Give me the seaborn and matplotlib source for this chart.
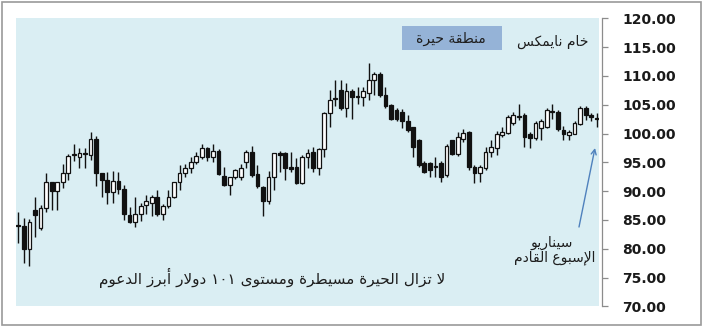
import re
import numpy as np
import pandas as pd
import matplotlib
matplotlib.use("Agg")
import matplotlib.pyplot as plt
import seaborn as sns
from matplotlib.patches import Rectangle

# ---------------- data (weekly NYMEX crude candles) ----------------
opens = [84.2, 84.0, 80.0, 86.7, 83.6, 87.0, 91.5, 90.1, 91.5, 93.2,
         96.2, 95.9, 96.6, 96.3, 99.0, 93.1, 91.9, 89.8, 91.8, 90.3,
         85.9, 84.7, 86.1, 87.6, 88.0, 89.0, 86.1, 87.4, 89.0, 91.5,
         93.2, 94.0, 95.1, 96.0, 97.4, 96.0, 97.0, 92.6, 91.0, 92.4,
         92.5, 95.1, 96.8, 93.0, 90.7, 88.2, 92.5, 96.7, 96.6, 94.1,
         94.2, 91.4, 96.0, 96.8, 94.0, 97.3, 103.6, 106.2, 107.6, 104.4,
         107.4, 106.5, 106.4, 107.1, 109.3, 110.3, 106.7, 105.0, 104.1, 103.8,
         102.1, 101.1, 98.9, 94.9, 94.9, 94.3, 94.8, 92.8, 98.9, 96.4,
         99.0, 100.3, 94.2, 93.1, 94.0, 96.8, 97.4, 99.7, 100.1, 101.9,
         103.0, 103.2, 100.0, 99.3, 100.9, 101.2, 103.9, 103.8, 100.6, 99.7,
         100.0, 101.6, 104.4, 103.2, 102.7]
highs = [86.4, 85.3, 85.2, 89.0, 87.6, 93.2, 91.6, 91.6, 94.7, 96.4,
         98.2, 97.5, 97.5, 100.3, 99.6, 93.2, 93.4, 93.5, 93.4, 91.1,
         87.3, 89.0, 88.0, 89.4, 89.4, 90.2, 87.8, 90.2, 91.6, 94.5,
         94.7, 96.0, 96.8, 98.2, 97.7, 98.2, 97.3, 94.1, 92.5, 93.8,
         94.7, 97.1, 97.9, 94.5, 90.8, 93.5, 96.7, 96.9, 96.8, 96.8,
         95.7, 96.3, 97.3, 97.7, 97.4, 103.8, 107.6, 109.3, 109.3, 108.7,
         107.8, 108.1, 108.1, 112.3, 110.7, 110.6, 108.1, 105.1, 104.5, 104.2,
         103.2, 101.2, 99.0, 95.2, 95.1, 96.0, 95.3, 98.1, 98.9, 100.2,
         100.8, 100.5, 94.5, 94.5, 97.7, 98.9, 100.5, 101.2, 103.2, 103.8,
         105.1, 103.5, 100.3, 102.1, 102.6, 104.5, 105.1, 104.0, 101.3, 100.6,
         102.1, 104.7, 104.7, 103.6, 103.5]
lows = [81.0, 77.5, 77.0, 82.0, 83.2, 86.4, 86.7, 86.8, 90.5, 91.9,
        95.3, 94.0, 94.0, 95.4, 90.8, 89.0, 87.8, 88.0, 89.5, 85.0,
        84.5, 83.8, 84.8, 86.1, 85.7, 85.6, 85.0, 87.0, 88.8, 90.2,
        92.5, 93.1, 94.7, 95.6, 95.3, 95.1, 92.8, 90.9, 89.3, 92.1,
        91.9, 94.0, 92.5, 90.5, 85.7, 87.8, 90.2, 93.4, 91.9, 93.4,
        91.2, 91.2, 94.0, 93.4, 92.8, 96.0, 101.2, 104.7, 104.1, 102.8,
        102.5, 105.2, 104.7, 105.8, 106.7, 106.4, 104.5, 102.3, 102.2, 100.9,
        100.3, 96.0, 94.2, 93.2, 92.5, 92.5, 91.6, 92.5, 96.2, 96.1,
        98.6, 93.7, 91.4, 91.6, 93.7, 96.0, 96.3, 99.4, 99.9, 101.5,
        102.3, 97.7, 97.4, 98.9, 98.9, 100.9, 102.6, 100.4, 98.9, 98.9,
        99.9, 101.5, 102.3, 102.2, 101.2]
closes = [84.0, 80.0, 84.7, 85.8, 87.0, 91.6, 90.1, 91.5, 93.2, 96.1,
          96.4, 96.6, 96.4, 99.0, 93.1, 91.9, 89.9, 91.8, 90.3, 86.1,
          84.7, 86.1, 87.4, 88.2, 88.9, 86.1, 87.4, 88.9, 91.5, 93.1,
          94.0, 95.1, 96.1, 97.4, 96.0, 97.0, 93.0, 91.0, 92.4, 93.6,
          94.0, 96.8, 92.8, 90.8, 88.2, 92.5, 96.6, 96.3, 94.0, 93.9,
          91.4, 96.0, 96.6, 94.0, 97.3, 103.6, 105.9, 106.0, 104.4, 107.3,
          106.4, 106.3, 107.3, 109.3, 110.3, 106.7, 104.7, 102.5, 102.6, 102.2,
          100.6, 97.7, 94.5, 93.4, 93.7, 94.1, 92.5, 97.9, 96.4, 99.4,
          100.1, 94.2, 93.1, 94.2, 96.8, 97.7, 100.0, 100.3, 102.9, 103.2,
          102.8, 99.4, 99.3, 101.8, 102.1, 104.0, 103.7, 100.7, 99.9, 100.3,
          101.8, 104.4, 103.2, 102.8, 102.5]
y_ticks = [70, 75, 80, 85, 90, 95, 100, 105, 110, 115, 120]

title_text = "خام نايمكس"
box_text = "منطقة حيرة"
note_text = "لا تزال الحيرة مسيطرة ومستوى ١٠١ دولار أبرز الدعوم"
scenario_line1 = "سيناريو"
scenario_line2 = "الإسبوع القادم"

# ---------------- minimal Arabic shaping + RTL ordering for display ----------------
_TWO = {'آ': 0xFE81, 'أ': 0xFE83, 'ؤ': 0xFE85, 'إ': 0xFE87, 'ا': 0xFE8D, 'ة': 0xFE93,
        'د': 0xFEA9, 'ذ': 0xFEAB, 'ر': 0xFEAD, 'ز': 0xFEAF, 'و': 0xFEED, 'ى': 0xFEEF}
_FOUR = {'ئ': 0xFE89, 'ب': 0xFE8F, 'ت': 0xFE95, 'ث': 0xFE99, 'ج': 0xFE9D, 'ح': 0xFEA1,
         'خ': 0xFEA5, 'س': 0xFEB1, 'ش': 0xFEB5, 'ص': 0xFEB9, 'ض': 0xFEBD, 'ط': 0xFEC1,
         'ظ': 0xFEC5, 'ع': 0xFEC9, 'غ': 0xFECD, 'ف': 0xFED1, 'ق': 0xFED5, 'ك': 0xFED9,
         'ل': 0xFEDD, 'م': 0xFEE1, 'ن': 0xFEE5, 'ه': 0xFEE9, 'ي': 0xFEF1}
_ONE = {'ء': 0xFE80}
_LAMALEF = {'آ': 0xFEF5, 'أ': 0xFEF7, 'إ': 0xFEF9, 'ا': 0xFEFB}


def shape_ar(text):
    units = []
    i = 0
    while i < len(text):
        c = text[i]
        if c == 'ل' and i + 1 < len(text) and text[i + 1] in _LAMALEF:
            units.append((_LAMALEF[text[i + 1]], 2))
            i += 2
            continue
        if c in _FOUR:
            units.append((_FOUR[c], 4))
        elif c in _TWO:
            units.append((_TWO[c], 2))
        elif c in _ONE:
            units.append((_ONE[c], 1))
        else:
            units.append((c, 0))
        i += 1
    out = []
    for k, (base, n) in enumerate(units):
        if n == 0:
            out.append(base)
            continue
        jp = k > 0 and units[k - 1][1] == 4 and n >= 2
        jn = n == 4 and k + 1 < len(units) and units[k + 1][1] >= 2
        if n == 1:
            code = base
        elif jp and jn:
            code = base + 3
        elif jp:
            code = base + 1
        elif jn:
            code = base + 2
        else:
            code = base
        out.append(chr(code))
    vis = ''.join(out)[::-1]
    vis = re.sub(r'[0-9\u0660-\u0669.]+', lambda m: m.group(0)[::-1], vis)
    return vis


# ---------------- figure ----------------
sns.set_theme(style="white")
plt.rcParams['font.family'] = ['DejaVu Sans']

df = pd.DataFrame({"week": np.arange(1, len(opens) + 1), "open": opens,
                   "high": highs, "low": lows, "close": closes})
df["up"] = df["close"] >= df["open"]
df["body_low"] = df[["open", "close"]].min(axis=1)
df["body_h"] = (df["close"] - df["open"]).abs()

W, H = 703, 326
fig = plt.figure(figsize=(W / 100, H / 100), dpi=100)
fig.patch.set_facecolor("white")


def fx(x):
    return x / W


def fy(y):
    return 1 - y / H


ax = fig.add_axes([fx(16), fy(306.3), (599 - 16) / W, 288 / H])
ax.set_facecolor("#DAEEF3")

ink = "#111111"
ax.vlines(df["week"], df["low"], df["high"], color=ink, lw=1.0, zorder=2)
up = df[df["up"]]
dn = df[~df["up"]]
ax.bar(up["week"], up["body_h"], bottom=up["body_low"], width=0.68,
       facecolor="white", edgecolor=ink, linewidth=0.9, zorder=3)
ax.bar(dn["week"], dn["body_h"], bottom=dn["body_low"], width=0.68,
       facecolor=ink, edgecolor=ink, linewidth=0.9, zorder=3)

ax.set_xlim(0.59, 105.4)
ax.set_ylim(70, 120)
ax.set_xticks([])
ax.set_yticks(y_ticks)
ax.set_yticklabels([f"{v:.2f}" for v in y_ticks])
ax.yaxis.tick_right()
for s in ["top", "left", "bottom"]:
    ax.spines[s].set_visible(False)
ax.spines["right"].set_visible(True)
ax.spines["right"].set_color("#8c8c8c")
ax.spines["right"].set_linewidth(0.9)
ax.spines["right"].set_position(("outward", 2))
ax.tick_params(axis="y", direction="out", length=4, width=0.9, color="#8c8c8c",
               pad=11, labelsize=10, labelcolor="#1a1a1a", right=True, left=False)
for lab in ax.get_yticklabels():
    lab.set_fontweight("bold")
ax.grid(False)

# outer frame
fig.add_artist(Rectangle((fx(1.5), fy(324.5)), (700.5 - 1.5) / W, (324.5 - 1.5) / H,
                         transform=fig.transFigure, fill=False, edgecolor="#9a9a9a", lw=1.2))

# header box and texts
fig.add_artist(Rectangle((fx(402), fy(50)), 100 / W, 24 / H, transform=fig.transFigure,
                         facecolor="#95B3D7", edgecolor="none", zorder=5))
txt_kw = dict(color="#1e1e1e", ha="center", va="center", zorder=6)
fig.text(fx(451), fy(38.5), shape_ar(box_text), fontsize=10, **txt_kw)
fig.text(fx(553), fy(41.5), shape_ar(title_text), fontsize=10, **txt_kw)
fig.text(fx(272), fy(278), shape_ar(note_text), fontsize=11, **txt_kw)
fig.text(fx(552), fy(242.5), shape_ar(scenario_line1), fontsize=10, **txt_kw)
fig.text(fx(555), fy(258), shape_ar(scenario_line2), fontsize=10, **txt_kw)

ax.annotate("", xy=(fx(595), fy(148)), xytext=(fx(579), fy(227)),
            xycoords="figure fraction", textcoords="figure fraction",
            arrowprops=dict(arrowstyle="->", color="#4F81BD", lw=1.0,
                            shrinkA=0, shrinkB=0, mutation_scale=9))

fig.savefig("out.png", dpi=100)
